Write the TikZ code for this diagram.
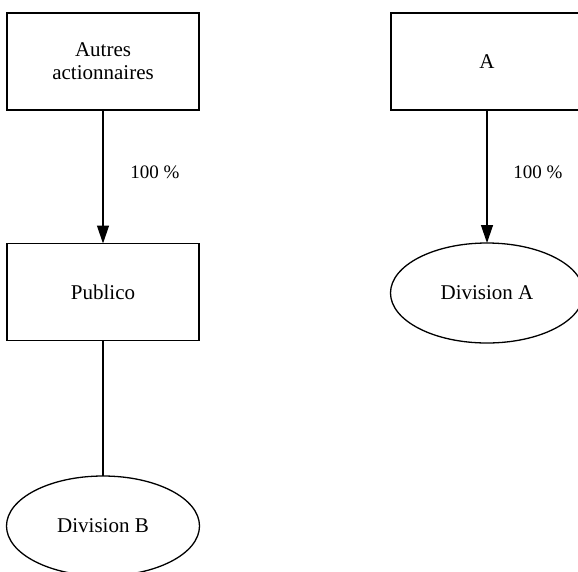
\documentclass[tikz,border=0pt]{standalone}
\usepackage{fontspec}
\setmainfont{Liberation Serif}
\usetikzlibrary{shapes.geometric,arrows.meta}
\begin{document}
\begin{tikzpicture}[x=1pt,y=-1pt,
  every node/.style={font=\fontsize{21}{23}\selectfont, inner sep=0pt, outer sep=0pt},
  entity/.style={draw, line width=1.3pt, rectangle, minimum width=192pt, minimum height=97pt, align=center},
  division/.style={draw, line width=1.3pt, ellipse, minimum width=193pt, minimum height=100pt},
  link/.style={line width=1.3pt},
  owns/.style={link, -{Triangle[length=18pt,width=12pt]}},
  share/.style={font=\fontsize{19}{21}\selectfont}]
  \useasboundingbox (0,0) rectangle (578,571);
  % left branch
  \node[entity] (aut) at (103,61.5) {Autres\\actionnaires};
  \node[entity] (pub) at (103,292) {Publico};
  \node[division] (divB) at (103,526) {Division B};
  \node[share] (p1) at (155,172) {100 \%};
  \draw[owns] (aut) -- (pub);
  \draw[link] (pub) -- (divB);
  % right branch
  \node[entity] (a) at (487,61.5) {A};
  \node[division] (divA) at (487,293) {Division A};
  \node[share] (p2) at (538,172) {100 \%};
  \draw[owns] (a) -- (divA);
\end{tikzpicture}
\end{document}
